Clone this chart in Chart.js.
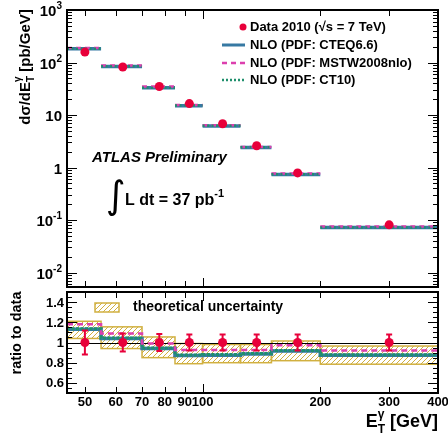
<!DOCTYPE html>
<html>
<head>
<meta charset="utf-8">
<script src="https://cdn.jsdelivr.net/npm/chart.js@4.4.0/dist/chart.umd.min.js"></script>
<style>
  html, body { margin: 0; padding: 0; background: #fff; }
  #wrap { position: relative; width: 448px; height: 439px; }
  canvas { position: absolute; left: 0; top: 0; }
</style>
</head>
<body>
<div id="wrap">
  <canvas id="xsecChart" width="448" height="439"></canvas>
  <canvas id="ratioChart" width="448" height="439"></canvas>
</div>
<script>
// photon E_T bins (GeV)
const binLo = [45, 55, 70, 85, 100, 125, 150, 200];
const binHi = [55, 70, 85, 100, 125, 150, 200, 400];
const dataEt = [50, 62.5, 77.5, 92.5, 112.5, 137.5, 175, 300];

// dsigma/dEt [pb/GeV]
const dataXsec = [158, 82, 35, 16.5, 6.8, 2.6, 0.79, 0.081];
const cteqXsec = [182, 84, 33, 15, 6.2, 2.4, 0.74, 0.072];
const mstwXsec = [188, 88, 35, 15.5, 6.4, 2.45, 0.77, 0.075];
const ct10Xsec = [183, 85, 33.2, 15.1, 6.25, 2.42, 0.745, 0.072];

// ratio to data
const dataRatio = [1, 1, 1, 1, 1, 1, 1, 1];
const dataRatioErr = [0.12, 0.09, 0.083, 0.08, 0.08, 0.08, 0.08, 0.08];
const dataRatioStat = [0.01, 0.01, 0.01, 0.015, 0.015, 0.02, 0.02, 0.035];
const cteqRatio = [1.13, 1.04, 0.94, 0.872, 0.875, 0.885, 0.915, 0.875];
const mstwRatio = [1.18, 1.09, 0.99, 0.925, 0.925, 0.925, 0.972, 0.92];
const ct10Ratio = [1.135, 1.045, 0.945, 0.876, 0.88, 0.89, 0.92, 0.879];
const theoUp = [1.21, 1.155, 1.055, 0.99, 0.98, 0.98, 1.015, 0.965];
const theoDown = [1.04, 0.94, 0.85, 0.79, 0.8, 0.8, 0.82, 0.785];

// axis ticks
const xTicks = [50, 60, 70, 80, 90, 100, 200, 300, 400];
const yTicksTop = [[1000, '10', '3'], [100, '10', '2'], [10, '10', ''], [1, '1', ''], [0.1, '10', '-1'], [0.01, '10', '-2']];
const yTicksRatio = [0.6, 0.8, 1, 1.2, 1.4];

const RED = '#e8003a';
const BLUE = '#3779a3';
const PINK = '#dc3fae';
const GREEN = '#1f8f6c';
const GOLD = '#d1b040';
const FONT = '"Liberation Sans", Arial, sans-serif';

function segments(vals) {
  const out = [];
  vals.forEach(function(v, i) {
    out.push({x: binLo[i], y: v}, {x: binHi[i], y: v}, {x: binHi[i], y: null});
  });
  return out;
}
function steps(vals) {
  const out = [];
  vals.forEach(function(v, i) {
    out.push({x: binLo[i], y: v}, {x: binHi[i], y: v});
  });
  return out;
}
function points(xs, ys) {
  return xs.map(function(x, i) { return {x: x, y: ys[i]}; });
}

function hatchPattern() {
  const c = document.createElement('canvas');
  c.width = 5; c.height = 5;
  const g = c.getContext('2d');
  g.strokeStyle = GOLD;
  g.lineWidth = 1;
  g.beginPath();
  g.moveTo(0, 5); g.lineTo(5, 0);
  g.moveTo(-1, 1); g.lineTo(1, -1);
  g.moveTo(4, 6); g.lineTo(6, 4);
  g.stroke();
  return g.createPattern(c, 'repeat');
}

// text with a superscript, right aligned at x
function supRight(ctx, x, y, base, sup, size) {
  const supSize = Math.round(size * 0.68);
  let w2 = 0;
  if (sup) {
    ctx.font = 'bold ' + supSize + 'px ' + FONT;
    w2 = ctx.measureText(sup).width;
  }
  ctx.font = 'bold ' + size + 'px ' + FONT;
  const w1 = ctx.measureText(base).width;
  ctx.textAlign = 'left';
  ctx.textBaseline = 'alphabetic';
  ctx.fillText(base, x - w1 - w2, y);
  if (sup) {
    ctx.font = 'bold ' + supSize + 'px ' + FONT;
    ctx.fillText(sup, x - w2, y - size * 0.45);
  }
}

function drawFrame(chart, yMajor, yMinor) {
  const ctx = chart.ctx, a = chart.chartArea;
  const x = chart.scales.x, y = chart.scales.y;
  ctx.save();
  ctx.strokeStyle = '#000';
  ctx.lineWidth = 1;
  ctx.beginPath();
  yMajor.forEach(function(v) {
    const p = Math.round(y.getPixelForValue(v)) + 0.5;
    ctx.moveTo(a.left, p); ctx.lineTo(a.left + 10, p);
    ctx.moveTo(a.right, p); ctx.lineTo(a.right - 10, p);
  });
  yMinor.forEach(function(v) {
    const p = Math.round(y.getPixelForValue(v)) + 0.5;
    ctx.moveTo(a.left, p); ctx.lineTo(a.left + 5, p);
    ctx.moveTo(a.right, p); ctx.lineTo(a.right - 5, p);
  });
  xTicks.forEach(function(v) {
    const p = Math.round(x.getPixelForValue(v)) + 0.5;
    const len = v === 100 ? 9 : 6;
    ctx.moveTo(p, a.bottom); ctx.lineTo(p, a.bottom - len);
    ctx.moveTo(p, a.top); ctx.lineTo(p, a.top + len);
  });
  ctx.stroke();
  ctx.lineWidth = 2;
  ctx.strokeRect(a.left, a.top, a.right - a.left, a.bottom - a.top);
  ctx.restore();
}

// ---------- upper panel ----------
const topMinor = [];
for (let d = -3; d <= 2; d++) {
  for (let k = 2; k <= 9; k++) {
    const v = k * Math.pow(10, d);
    if (v > 0.0053 && v < 1000) topMinor.push(v);
  }
}

const topDecor = {
  id: 'topDecor',
  afterDraw: function(chart) {
    const ctx = chart.ctx, a = chart.chartArea, y = chart.scales.y;
    drawFrame(chart, yTicksTop.map(function(t) { return t[0]; }), topMinor);
    ctx.save();
    ctx.fillStyle = '#000';
    yTicksTop.forEach(function(t) {
      const p = y.getPixelForValue(t[0]);
      supRight(ctx, a.left - 5, p + 6, t[1], t[2], 15);
    });

    // y title
    ctx.save();
    ctx.translate(30, 67);
    ctx.rotate(-Math.PI / 2);
    const big = 'bold 15px ' + FONT, small = 'bold 10px ' + FONT;
    ctx.font = big;
    const w1 = ctx.measureText('d\u03c3/dE').width;
    ctx.font = small;
    const wS = ctx.measureText('T').width;
    ctx.font = big;
    const w3 = ctx.measureText(' [pb/GeV]').width;
    let sx = -(w1 + wS + w3) / 2;
    ctx.textAlign = 'left';
    ctx.fillText('d\u03c3/dE', sx, 0);
    sx += w1;
    ctx.font = small;
    ctx.fillText('T', sx, 4);
    ctx.fillText('\u03b3', sx, -9);
    sx += wS;
    ctx.font = big;
    ctx.fillText(' [pb/GeV]', sx, 0);
    ctx.restore();

    // legend
    ctx.font = 'bold 13px ' + FONT;
    ctx.textBaseline = 'middle';
    ctx.textAlign = 'left';
    const rows = [27, 45, 63, 80];
    ctx.fillText('Data 2010 (\u221as = 7 TeV)', 250, rows[0]);
    ctx.fillText('NLO (PDF: CTEQ6.6)', 250, rows[1]);
    ctx.fillText('NLO (PDF: MSTW2008nlo)', 250, rows[2]);
    ctx.fillText('NLO (PDF: CT10)', 250, rows[3]);
    ctx.fillStyle = RED;
    ctx.beginPath(); ctx.arc(243, rows[0], 3.5, 0, Math.PI * 2); ctx.fill();
    ctx.lineWidth = 3; ctx.strokeStyle = BLUE;
    ctx.beginPath(); ctx.moveTo(222, rows[1]); ctx.lineTo(245, rows[1]); ctx.stroke();
    ctx.lineWidth = 2.5; ctx.strokeStyle = PINK; ctx.setLineDash([5, 4]);
    ctx.beginPath(); ctx.moveTo(222, rows[2]); ctx.lineTo(245, rows[2]); ctx.stroke();
    ctx.strokeStyle = GREEN; ctx.setLineDash([2, 2]);
    ctx.beginPath(); ctx.moveTo(222, rows[3]); ctx.lineTo(245, rows[3]); ctx.stroke();
    ctx.setLineDash([]);

    // labels
    ctx.fillStyle = '#000';
    ctx.textBaseline = 'alphabetic';
    ctx.font = 'italic bold 15px ' + FONT;
    ctx.fillText('ATLAS Preliminary', 92, 162);
    ctx.font = '38px "DejaVu Sans"';
    ctx.fillText('\u222b', 106, 208);
    ctx.font = 'bold 16px ' + FONT;
    ctx.fillText('L dt = 37 pb', 125, 205);
    const wl = ctx.measureText('L dt = 37 pb').width;
    ctx.font = 'bold 11px ' + FONT;
    ctx.fillText('-1', 125 + wl, 197);
    ctx.restore();
  }
};

new Chart(document.getElementById('xsecChart'), {
  type: 'line',
  data: {
    datasets: [
      {
        label: 'Data 2010',
        data: points(dataEt, dataXsec),
        showLine: false,
        pointRadius: 4.5,
        pointBackgroundColor: RED,
        pointBorderWidth: 0,
        order: 0
      },
      {
        label: 'NLO (PDF: CT10)',
        data: segments(ct10Xsec),
        borderColor: GREEN,
        borderWidth: 2.5,
        borderDash: [2, 2.5],
        pointRadius: 0,
        spanGaps: false,
        order: 1
      },
      {
        label: 'NLO (PDF: MSTW2008nlo)',
        data: segments(mstwXsec),
        borderColor: PINK,
        borderWidth: 2.5,
        borderDash: [5, 4],
        pointRadius: 0,
        spanGaps: false,
        order: 2
      },
      {
        label: 'NLO (PDF: CTEQ6.6)',
        data: segments(cteqXsec),
        borderColor: BLUE,
        borderWidth: 3.5,
        pointRadius: 0,
        spanGaps: false,
        order: 3
      }
    ]
  },
  options: {
    responsive: false,
    animation: false,
    layout: { padding: { left: 67, right: 10, top: 10, bottom: 152 } },
    scales: {
      x: { type: 'logarithmic', min: 45, max: 400, display: false },
      y: { type: 'logarithmic', min: 0.0053, max: 1000, display: false }
    },
    plugins: { legend: { display: false }, tooltip: { enabled: false } }
  },
  plugins: [topDecor]
});

// ---------- ratio panel ----------
const ratioMinor = [];
for (let i = 11; i <= 29; i++) ratioMinor.push(i * 0.05);

const ratioDecor = {
  id: 'ratioDecor',
  afterDatasetDraw: function(chart, args) {
    if (args.index !== 1) return;
    const ctx = chart.ctx, a = chart.chartArea, x = chart.scales.x, y = chart.scales.y;
    ctx.save();
    // outline of each uncertainty box
    ctx.strokeStyle = GOLD;
    ctx.lineWidth = 1.5;
    binLo.forEach(function(lo, i) {
      const x0 = x.getPixelForValue(lo), x1 = x.getPixelForValue(binHi[i]);
      const y0 = y.getPixelForValue(theoUp[i]), y1 = y.getPixelForValue(theoDown[i]);
      ctx.strokeRect(x0, y0, x1 - x0, y1 - y0);
    });
    // reference line at unity
    const p = Math.round(y.getPixelForValue(1)) + 0.5;
    ctx.strokeStyle = '#000';
    ctx.lineWidth = 1;
    ctx.beginPath(); ctx.moveTo(a.left, p); ctx.lineTo(a.right, p); ctx.stroke();
    ctx.restore();
  },
  afterDatasetsDraw: function(chart) {
    const ctx = chart.ctx, x = chart.scales.x, y = chart.scales.y;
    ctx.save();
    ctx.lineWidth = 2;
    dataEt.forEach(function(e, i) {
      const px = x.getPixelForValue(e);
      const hi = y.getPixelForValue(dataRatio[i] + dataRatioErr[i]);
      const lo = y.getPixelForValue(dataRatio[i] - dataRatioErr[i]);
      ctx.strokeStyle = RED;
      ctx.beginPath();
      ctx.moveTo(px, hi); ctx.lineTo(px, lo);
      ctx.moveTo(px - 3, hi); ctx.lineTo(px + 3, hi);
      ctx.moveTo(px - 3, lo); ctx.lineTo(px + 3, lo);
      ctx.stroke();
      ctx.strokeStyle = '#000';
      ctx.beginPath();
      ctx.moveTo(px, y.getPixelForValue(dataRatio[i] + dataRatioStat[i]));
      ctx.lineTo(px, y.getPixelForValue(dataRatio[i] - dataRatioStat[i]));
      ctx.stroke();
      ctx.fillStyle = RED;
      ctx.beginPath(); ctx.arc(px, y.getPixelForValue(dataRatio[i]), 4.5, 0, Math.PI * 2); ctx.fill();
    });
    ctx.restore();
  },
  afterDraw: function(chart) {
    const ctx = chart.ctx, a = chart.chartArea, x = chart.scales.x, y = chart.scales.y;
    drawFrame(chart, yTicksRatio, ratioMinor);
    ctx.save();
    ctx.fillStyle = '#000';
    ctx.font = 'bold 13px ' + FONT;
    ctx.textAlign = 'right';
    ctx.textBaseline = 'middle';
    yTicksRatio.forEach(function(v) {
      ctx.fillText(String(v), a.left - 3, y.getPixelForValue(v) + 1);
    });
    ctx.textAlign = 'center';
    ctx.textBaseline = 'alphabetic';
    xTicks.forEach(function(v) {
      ctx.fillText(String(v), x.getPixelForValue(v), a.bottom + 13);
    });

    // y title
    ctx.save();
    ctx.translate(21, 333);
    ctx.rotate(-Math.PI / 2);
    ctx.font = 'bold 14.5px ' + FONT;
    ctx.fillText('ratio to data', 0, 0);
    ctx.restore();

    // x title
    ctx.textAlign = 'left';
    const big = 'bold 18px ' + FONT, small = 'bold 12px ' + FONT;
    ctx.font = big;
    const wE = ctx.measureText('E').width, wG = ctx.measureText(' [GeV]').width;
    ctx.font = small;
    const wT = ctx.measureText('T').width;
    let sx = 438 - wE - wT - wG;
    ctx.font = big;
    ctx.fillText('E', sx, 427);
    sx += wE;
    ctx.font = small;
    ctx.fillText('T', sx, 433);
    ctx.fillText('\u03b3', sx, 418);
    sx += wT;
    ctx.font = big;
    ctx.fillText(' [GeV]', sx, 427);

    // legend
    ctx.fillStyle = hatchPattern();
    ctx.fillRect(95, 303, 24, 9);
    ctx.strokeStyle = GOLD;
    ctx.lineWidth = 1.5;
    ctx.strokeRect(95, 303, 24, 9);
    ctx.fillStyle = '#000';
    ctx.font = 'bold 14px ' + FONT;
    ctx.textBaseline = 'middle';
    ctx.fillText('theoretical uncertainty', 133, 307);
    ctx.restore();
  }
};

new Chart(document.getElementById('ratioChart'), {
  type: 'line',
  data: {
    datasets: [
      {
        label: 'theoretical uncertainty',
        data: steps(theoUp),
        borderWidth: 0,
        borderColor: 'rgba(0,0,0,0)',
        backgroundColor: hatchPattern(),
        fill: '+1',
        pointRadius: 0,
        order: 10
      },
      {
        label: 'theo down',
        data: steps(theoDown),
        borderWidth: 0,
        borderColor: 'rgba(0,0,0,0)',
        fill: false,
        pointRadius: 0,
        order: 9
      },
      {
        label: 'NLO (PDF: CTEQ6.6)',
        data: steps(cteqRatio),
        borderColor: BLUE,
        borderWidth: 3.5,
        pointRadius: 0,
        order: 5
      },
      {
        label: 'NLO (PDF: CT10)',
        data: steps(ct10Ratio),
        borderColor: GREEN,
        borderWidth: 3,
        borderDash: [3, 1.5],
        pointRadius: 0,
        order: 4
      },
      {
        label: 'NLO (PDF: MSTW2008nlo)',
        data: steps(mstwRatio),
        borderColor: PINK,
        borderWidth: 2.5,
        borderDash: [6, 4],
        pointRadius: 0,
        order: 3
      }
    ]
  },
  options: {
    responsive: false,
    animation: false,
    layout: { padding: { left: 67, right: 10, top: 292, bottom: 46 } },
    scales: {
      x: { type: 'logarithmic', min: 45, max: 400, display: false },
      y: { type: 'linear', min: 0.5, max: 1.5, display: false }
    },
    plugins: { legend: { display: false }, tooltip: { enabled: false } }
  },
  plugins: [ratioDecor]
});
</script>
</body>
</html>
